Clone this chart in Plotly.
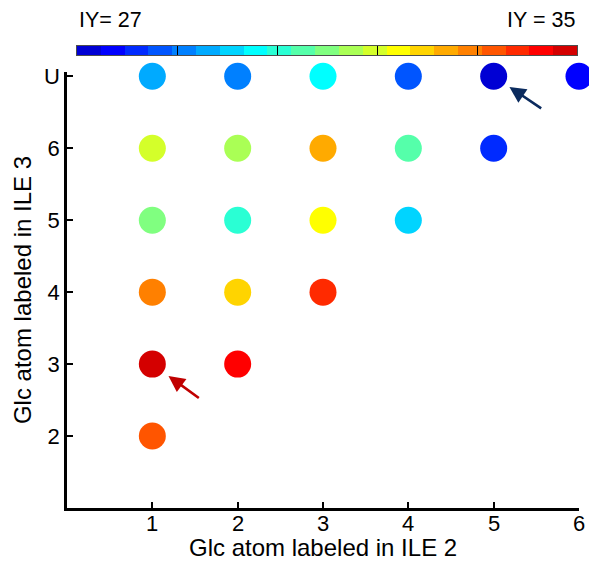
import plotly.graph_objects as go

# Glc atom labeled in ILE 2 (x) and ILE 3 (y); 7 stands for "U"
row_u_x = [1, 2, 3, 4, 5, 6]
row_u_iy = [29.0, 28.6, 29.8, 28.2, 27.0, 27.4]
row_6_x = [1, 2, 3, 4, 5]
row_6_iy = [31.8, 31.4, 33.0, 30.6, 27.8]
row_5_x = [1, 2, 3, 4]
row_5_iy = [31.0, 30.2, 32.2, 29.4]
row_4_x = [1, 2, 3]
row_4_iy = [33.4, 32.6, 34.2]
row_3_x = [1, 2]
row_3_iy = [35.0, 34.6]
row_2_x = [1]
row_2_iy = [33.8]

y_tickvals = [2, 3, 4, 5, 6, 7]
y_ticktext = ["2", "3", "4", "5", "6", "U"]
x_tickvals = [1, 2, 3, 4, 5, 6]
x_ticktext = ["1", "2", "3", "4", "5", "6"]

iy_min, iy_max, iy_step = 27.0, 35.0, 0.4

# 21-level jet palette, one colour per IY step
jet21 = [
    "#0000D4", "#0000FF", "#002AFF", "#0055FF", "#0080FF", "#00AAFF", "#00D4FF",
    "#00FFFF", "#2AFFD4", "#55FFAA", "#80FF80", "#AAFF55", "#D4FF2A", "#FFFF00",
    "#FFD400", "#FFAA00", "#FF8000", "#FF5500", "#FF2A00", "#FF0000", "#D40000",
]

rows = [
    (7, row_u_x, row_u_iy),
    (6, row_6_x, row_6_iy),
    (5, row_5_x, row_5_iy),
    (4, row_4_x, row_4_iy),
    (3, row_3_x, row_3_iy),
    (2, row_2_x, row_2_iy),
]
xs, ys, cs = [], [], []
for yv, xr, vr in rows:
    xs += xr
    ys += [yv] * len(xr)
    cs += vr

n = len(jet21)
scale = []
for i, c in enumerate(jet21):
    scale.append([i / n, c])
    scale.append([(i + 1) / n, c])

cmin = iy_min - iy_step / 2
cmax = iy_max + iy_step / 2
levels = [iy_min + k * iy_step for k in range(n)]
cb_ticks = [cmin + (cmax - cmin) * f for f in (0.2, 0.4, 0.6, 0.8)]

W, H = 589, 566
ML, MR, MT, MB = 67, 10, 40, 58
plot_h = H - MT - MB
FONT = "Liberation Sans, Arial, sans-serif"
FS_TICK = 22
FS_TITLE = 24
FS_CB = 21.5


def py(pix):
    """Pixel row -> paper y fraction."""
    return (H - MB - pix) / plot_h


fig = go.Figure()

# main scatter of coloured dots
fig.add_trace(go.Scatter(
    x=xs, y=ys, mode="markers", cliponaxis=False,
    marker=dict(size=27, color=cs, colorscale=scale, cmin=cmin, cmax=cmax,
                line=dict(width=0), showscale=False),
    hoverinfo="x+y+text", text=[f"IY = {v:.1f}" for v in cs],
    showlegend=False,
))

# colour bar drawn as a one-row heatmap
fig.add_trace(go.Heatmap(
    z=[levels], x=levels, y=[0], colorscale=scale, zmin=cmin, zmax=cmax,
    showscale=False, xaxis="x2", yaxis="y2", hoverinfo="skip",
))

fig.add_annotation(xref="x", yref="y", x=5, y=7, ax=49, ay=33,
                   showarrow=True, arrowhead=2, arrowsize=1.25, arrowwidth=2.6,
                   arrowcolor="#0B2B5E", standoff=19, text="")
fig.add_annotation(xref="x", yref="y", x=1, y=3, ax=48, ay=35,
                   showarrow=True, arrowhead=2, arrowsize=1.25, arrowwidth=2.6,
                   arrowcolor="#C00000", standoff=20, text="")

# colour bar end labels
fig.add_annotation(xref="x2", yref="paper", x=cmin, y=py(20),
                   xanchor="left", yanchor="middle", showarrow=False,
                   text=f"IY= {iy_min:.0f}", font=dict(size=FS_CB, color="#000000", family=FONT))
fig.add_annotation(xref="x2", yref="paper", x=cmax, y=py(20),
                   xanchor="right", yanchor="middle", showarrow=False,
                   text=f"IY = {iy_max:.0f}", font=dict(size=FS_CB, color="#000000", family=FONT))

# x tick labels, set close under the axis line
for v, t in zip(x_tickvals, x_ticktext):
    fig.add_annotation(xref="x", yref="paper", x=v, y=0, yshift=-15,
                       xanchor="center", yanchor="middle", showarrow=False,
                       text=t, font=dict(size=FS_TICK, color="#000000", family=FONT))

# x axis title
fig.add_annotation(xref="paper", yref="paper", x=0.5, y=0, yshift=-39,
                   xanchor="center", yanchor="middle", showarrow=False,
                   text="Glc atom labeled in ILE 2",
                   font=dict(size=FS_TITLE, color="#000000", family=FONT))

axis_common = dict(
    showgrid=False, zeroline=False, showline=True, linecolor="#000000",
    linewidth=2.5, ticks="inside", ticklen=6, tickwidth=2, tickcolor="#000000",
    tickfont=dict(size=FS_TICK, color="#000000", family=FONT),
)

fig.update_layout(
    width=W, height=H, margin=dict(l=ML, r=MR, t=MT, b=MB, autoexpand=False),
    plot_bgcolor="white", paper_bgcolor="white",
    font=dict(family=FONT, color="#000000"),
    xaxis=dict(range=[0, 6], tickvals=x_tickvals, showticklabels=False,
               domain=[0, 1], **axis_common),
    yaxis=dict(range=[1, 7.06], tickvals=y_tickvals, ticktext=y_ticktext,
               domain=[0, py(72)],
               title=dict(text="Glc atom labeled in ILE 3", standoff=6,
                          font=dict(size=FS_TITLE, color="#000000", family=FONT)),
               **axis_common),
    xaxis2=dict(range=[cmin, cmax], domain=[(77 - ML) / (W - ML - MR), (577 - ML) / (W - ML - MR)],
                anchor="y2", showgrid=False, zeroline=False, showline=True,
                mirror=True, linecolor="#4d4d4d", linewidth=1,
                tickvals=cb_ticks, ticks="inside", ticklen=9, tickwidth=1,
                tickcolor="#000000", showticklabels=False, fixedrange=True),
    yaxis2=dict(range=[-0.5, 0.5], domain=[py(55), py(46)], anchor="x2",
                showgrid=False, zeroline=False, showline=True, mirror=True,
                linecolor="#4d4d4d", linewidth=1, showticklabels=False,
                ticks="", fixedrange=True),
)

fig.write_html("out.html")
